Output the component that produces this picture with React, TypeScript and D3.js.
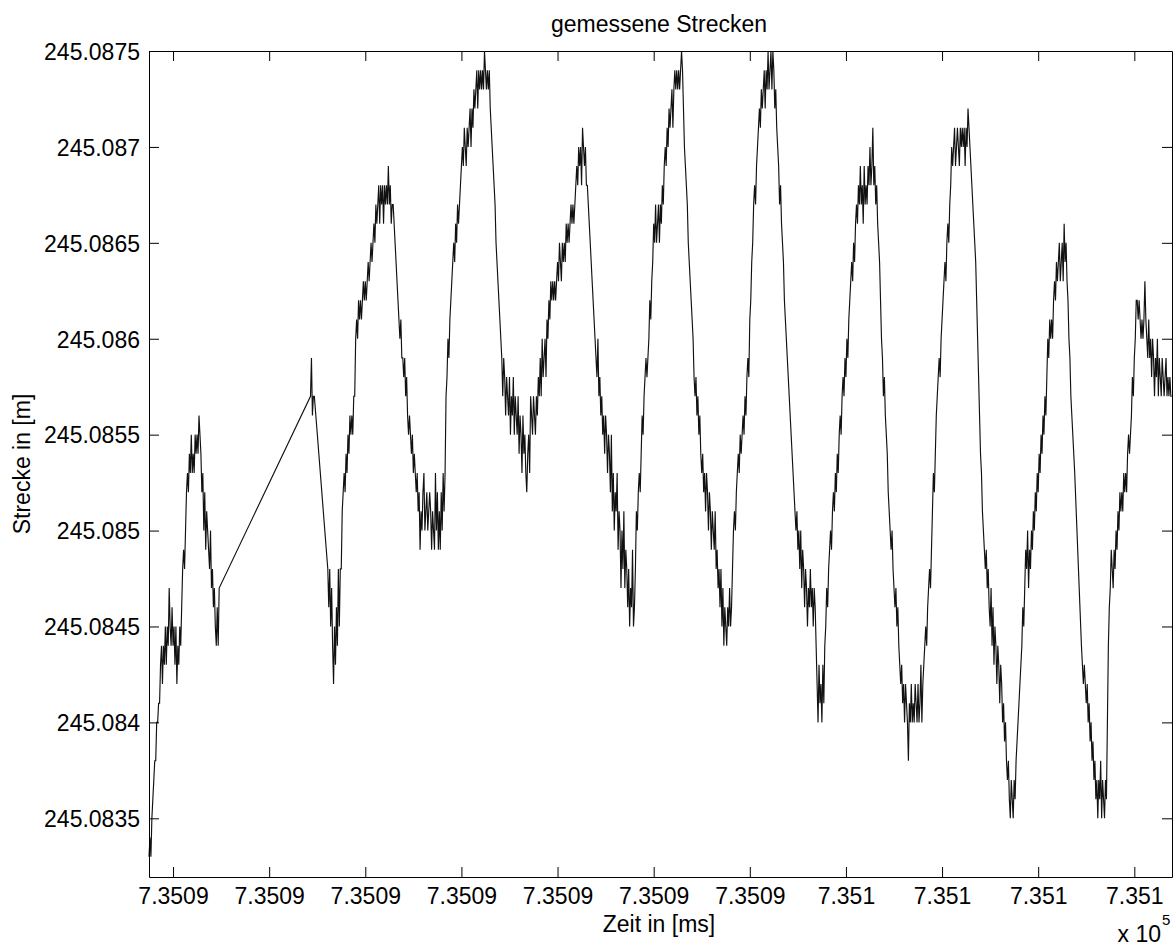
import React, { useEffect, useRef } from "react";
import * as d3 from "d3";

// Messreihe: Zeit in [ms], Strecke in [m]
const zeit = [
  735087.75, 735087.76, 735087.77, 735087.78, 735087.79,
  735087.80, 735087.81, 735087.82, 735087.83, 735087.84, 735087.85, 735087.86, 735087.87, 735087.88, 735087.89,
  735087.90, 735087.91, 735087.92, 735087.93, 735087.94, 735087.95, 735087.96, 735087.97, 735087.98, 735087.99,
  735088.00, 735088.01, 735088.02, 735088.03, 735088.04, 735088.05, 735088.06, 735088.07, 735088.08, 735088.09,
  735088.10, 735088.11, 735088.12, 735088.13, 735088.14, 735088.15, 735088.16, 735088.17, 735088.18, 735088.19,
  735088.20, 735088.21, 735088.22, 735088.23, 735088.24, 735088.25, 735088.26, 735088.27, 735088.28, 735088.29,
  735088.30, 735088.31, 735088.32, 735088.33, 735088.34, 735088.35, 735088.36, 735088.37, 735088.38, 735088.39,
  735088.40, 735088.41, 735088.42, 735088.43, 735088.44, 735088.45, 735088.46, 735088.47, 735088.48,
  735089.43, 735089.44, 735089.45, 735089.46, 735089.47,
  735089.61, 735089.62, 735089.63, 735089.64, 735089.65, 735089.66, 735089.67, 735089.68, 735089.69,
  735089.70, 735089.71, 735089.72, 735089.73, 735089.74, 735089.75, 735089.76, 735089.77, 735089.78, 735089.79,
  735089.80, 735089.81, 735089.82, 735089.83, 735089.84, 735089.85, 735089.86, 735089.87, 735089.88, 735089.89,
  735089.90, 735089.91, 735089.92, 735089.93, 735089.94, 735089.95, 735089.96, 735089.97, 735089.98, 735089.99,
  735090.00, 735090.01, 735090.02, 735090.03, 735090.04, 735090.05, 735090.06, 735090.07, 735090.08, 735090.09,
  735090.10, 735090.11, 735090.12, 735090.13, 735090.14, 735090.15, 735090.16, 735090.17, 735090.18, 735090.19,
  735090.20, 735090.21, 735090.22, 735090.23, 735090.24, 735090.25, 735090.26, 735090.27, 735090.28, 735090.29,
  735090.30, 735090.31, 735090.32, 735090.33, 735090.34, 735090.35, 735090.36, 735090.37, 735090.38, 735090.39,
  735090.40, 735090.41, 735090.42, 735090.43, 735090.44, 735090.45, 735090.46, 735090.47, 735090.48, 735090.49,
  735090.50, 735090.51, 735090.52, 735090.53, 735090.54, 735090.55, 735090.56, 735090.57, 735090.58, 735090.59,
  735090.60, 735090.61, 735090.62, 735090.63, 735090.64, 735090.65, 735090.66, 735090.67, 735090.68, 735090.69,
  735090.70, 735090.71, 735090.72, 735090.73, 735090.74, 735090.75, 735090.76, 735090.77, 735090.78, 735090.79,
  735090.80, 735090.81, 735090.82, 735090.83, 735090.84, 735090.85, 735090.86, 735090.87, 735090.88, 735090.89,
  735090.90, 735090.91, 735090.92, 735090.93, 735090.94, 735090.95, 735090.96, 735090.97, 735090.98, 735090.99,
  735091.00, 735091.01, 735091.02, 735091.03, 735091.04, 735091.05, 735091.06, 735091.07, 735091.08, 735091.09,
  735091.10, 735091.11, 735091.12, 735091.13, 735091.14, 735091.15, 735091.16, 735091.17, 735091.18, 735091.19,
  735091.20, 735091.21, 735091.22, 735091.23, 735091.24, 735091.25, 735091.26, 735091.27, 735091.28, 735091.29,
  735091.30, 735091.31, 735091.32, 735091.33, 735091.34, 735091.35, 735091.36, 735091.37, 735091.38, 735091.39,
  735091.40, 735091.41, 735091.42, 735091.43, 735091.44, 735091.45, 735091.46, 735091.47, 735091.48, 735091.49,
  735091.50, 735091.51, 735091.52, 735091.53, 735091.54, 735091.55, 735091.56, 735091.57, 735091.58, 735091.59,
  735091.60, 735091.61, 735091.62, 735091.63, 735091.64, 735091.65, 735091.66, 735091.67, 735091.68, 735091.69,
  735091.70, 735091.71, 735091.72, 735091.73, 735091.74, 735091.75, 735091.76, 735091.77, 735091.78, 735091.79,
  735091.80, 735091.81, 735091.82, 735091.83, 735091.84, 735091.85, 735091.86, 735091.87, 735091.88, 735091.89,
  735091.90, 735091.91, 735091.92, 735091.93, 735091.94, 735091.95, 735091.96, 735091.97, 735091.98, 735091.99,
  735092.00, 735092.01, 735092.02, 735092.03, 735092.04, 735092.05, 735092.06, 735092.07, 735092.08, 735092.09,
  735092.10, 735092.11, 735092.12, 735092.13, 735092.14, 735092.15, 735092.16, 735092.17, 735092.18, 735092.19,
  735092.20, 735092.21, 735092.22, 735092.23, 735092.24, 735092.25, 735092.26, 735092.27, 735092.28, 735092.29,
  735092.30, 735092.31, 735092.32, 735092.33, 735092.34, 735092.35, 735092.36, 735092.37, 735092.38, 735092.39,
  735092.40, 735092.41, 735092.42, 735092.43, 735092.44, 735092.45, 735092.46, 735092.47, 735092.48, 735092.49,
  735092.50, 735092.51, 735092.52, 735092.53, 735092.54, 735092.55, 735092.56, 735092.57, 735092.58, 735092.59,
  735092.60, 735092.61, 735092.62, 735092.63, 735092.64, 735092.65, 735092.66, 735092.67, 735092.68, 735092.69,
  735092.70, 735092.71, 735092.72, 735092.73, 735092.74, 735092.75, 735092.76, 735092.77, 735092.78, 735092.79,
  735092.80, 735092.81, 735092.82, 735092.83, 735092.84, 735092.85, 735092.86, 735092.87, 735092.88, 735092.89,
  735092.90, 735092.91, 735092.92, 735092.93, 735092.94, 735092.95, 735092.96, 735092.97, 735092.98, 735092.99,
  735093.00, 735093.01, 735093.02, 735093.03, 735093.04, 735093.05, 735093.06, 735093.07, 735093.08, 735093.09,
  735093.10, 735093.11, 735093.12, 735093.13, 735093.14, 735093.15, 735093.16, 735093.17, 735093.18, 735093.19,
  735093.20, 735093.21, 735093.22, 735093.23, 735093.24, 735093.25, 735093.26, 735093.27, 735093.28, 735093.29,
  735093.30, 735093.31, 735093.32, 735093.33, 735093.34, 735093.35, 735093.36, 735093.37, 735093.38, 735093.39,
  735093.40, 735093.41, 735093.42, 735093.43, 735093.44, 735093.45, 735093.46, 735093.47, 735093.48, 735093.49,
  735093.50, 735093.51, 735093.52, 735093.53, 735093.54, 735093.55, 735093.56, 735093.57, 735093.58, 735093.59,
  735093.60, 735093.61, 735093.62, 735093.63, 735093.64, 735093.65, 735093.66, 735093.67, 735093.68, 735093.69,
  735093.70, 735093.71, 735093.72, 735093.73, 735093.74, 735093.75, 735093.76, 735093.77, 735093.78, 735093.79,
  735093.80, 735093.81, 735093.82, 735093.83, 735093.84, 735093.85, 735093.86, 735093.87, 735093.88, 735093.89,
  735093.90, 735093.91, 735093.92, 735093.93, 735093.94, 735093.95, 735093.96, 735093.97, 735093.98, 735093.99,
  735094.00, 735094.01, 735094.02, 735094.03, 735094.04, 735094.05, 735094.06, 735094.07, 735094.08, 735094.09,
  735094.10, 735094.11, 735094.12, 735094.13, 735094.14, 735094.15, 735094.16, 735094.17, 735094.18, 735094.19,
  735094.20, 735094.21, 735094.22, 735094.23, 735094.24, 735094.25, 735094.26, 735094.27, 735094.28, 735094.29,
  735094.30, 735094.31, 735094.32, 735094.33, 735094.34, 735094.35, 735094.36, 735094.37, 735094.38, 735094.39,
  735094.40, 735094.41, 735094.42, 735094.43, 735094.44, 735094.45, 735094.46, 735094.47, 735094.48, 735094.49,
  735094.50, 735094.51, 735094.52, 735094.53, 735094.54, 735094.55, 735094.56, 735094.57, 735094.58, 735094.59,
  735094.60, 735094.61, 735094.62, 735094.63, 735094.64, 735094.65, 735094.66, 735094.67, 735094.68, 735094.69,
  735094.70, 735094.71, 735094.72, 735094.73, 735094.74, 735094.75, 735094.76, 735094.77, 735094.78, 735094.79,
  735094.80, 735094.81, 735094.82, 735094.83, 735094.84, 735094.85, 735094.86, 735094.87, 735094.88, 735094.89,
  735094.90, 735094.91, 735094.92, 735094.93, 735094.94, 735094.95, 735094.96, 735094.97, 735094.98, 735094.99,
  735095.00, 735095.01, 735095.02, 735095.03, 735095.04, 735095.05, 735095.06, 735095.07, 735095.08, 735095.09,
  735095.10, 735095.11, 735095.12, 735095.13, 735095.14, 735095.15, 735095.16, 735095.17, 735095.18, 735095.19,
  735095.20, 735095.21, 735095.22, 735095.23, 735095.24, 735095.25, 735095.26, 735095.27, 735095.28, 735095.29,
  735095.30, 735095.31, 735095.32, 735095.33, 735095.34, 735095.35, 735095.36, 735095.37, 735095.38, 735095.39,
  735095.40, 735095.41, 735095.42, 735095.43, 735095.44, 735095.45, 735095.46, 735095.47, 735095.48, 735095.49,
  735095.50, 735095.51, 735095.52, 735095.53, 735095.54, 735095.55, 735095.56, 735095.57, 735095.58, 735095.59,
  735095.60, 735095.61, 735095.62, 735095.63, 735095.64, 735095.65, 735095.66, 735095.67, 735095.68, 735095.69,
  735095.70, 735095.71, 735095.72, 735095.73, 735095.74, 735095.75, 735095.76, 735095.77, 735095.78, 735095.79,
  735095.80, 735095.81, 735095.82, 735095.83, 735095.84, 735095.85, 735095.86, 735095.87, 735095.88, 735095.89,
  735095.90, 735095.91, 735095.92, 735095.93, 735095.94, 735095.95, 735095.96, 735095.97, 735095.98, 735095.99,
  735096.00, 735096.01, 735096.02, 735096.03, 735096.04, 735096.05, 735096.06, 735096.07, 735096.08, 735096.09,
  735096.10, 735096.11, 735096.12, 735096.13, 735096.14, 735096.15, 735096.16, 735096.17, 735096.18, 735096.19,
  735096.20, 735096.21, 735096.22, 735096.23, 735096.24, 735096.25, 735096.26, 735096.27, 735096.28, 735096.29,
  735096.30, 735096.31, 735096.32, 735096.33, 735096.34, 735096.35, 735096.36, 735096.37, 735096.38, 735096.39,
  735096.40, 735096.41, 735096.42, 735096.43, 735096.44, 735096.45, 735096.46, 735096.47, 735096.48, 735096.49,
  735096.50, 735096.51, 735096.52, 735096.53, 735096.54, 735096.55, 735096.56, 735096.57, 735096.58, 735096.59,
  735096.60, 735096.61, 735096.62, 735096.63, 735096.64, 735096.65, 735096.66, 735096.67, 735096.68, 735096.69,
  735096.70, 735096.71, 735096.72, 735096.73, 735096.74, 735096.75, 735096.76, 735096.77, 735096.78, 735096.79,
  735096.80, 735096.81, 735096.82, 735096.83, 735096.84, 735096.85, 735096.86, 735096.87, 735096.88, 735096.89,
  735096.90, 735096.91, 735096.92, 735096.93, 735096.94, 735096.95, 735096.96, 735096.97, 735096.98, 735096.99,
  735097.00, 735097.01, 735097.02, 735097.03, 735097.04, 735097.05, 735097.06, 735097.07, 735097.08, 735097.09,
  735097.10, 735097.11, 735097.12, 735097.13, 735097.14, 735097.15, 735097.16, 735097.17, 735097.18, 735097.19,
  735097.20, 735097.21, 735097.22, 735097.23, 735097.24, 735097.25, 735097.26, 735097.27, 735097.28, 735097.29,
  735097.30, 735097.31, 735097.32, 735097.33, 735097.34, 735097.35, 735097.36, 735097.37, 735097.38,
  735097.45, 735097.46, 735097.47, 735097.48, 735097.49,
  735097.50, 735097.51, 735097.52, 735097.53, 735097.54, 735097.55, 735097.56, 735097.57, 735097.58, 735097.59,
  735097.60, 735097.61, 735097.62, 735097.63, 735097.64, 735097.65, 735097.66, 735097.67, 735097.68, 735097.69,
  735097.70, 735097.71, 735097.72, 735097.73, 735097.74, 735097.75, 735097.76, 735097.77, 735097.78, 735097.79,
  735097.80, 735097.81, 735097.82, 735097.83, 735097.84, 735097.85, 735097.86, 735097.87, 735097.88, 735097.89,
  735097.90, 735097.91, 735097.92, 735097.93, 735097.94, 735097.95, 735097.96, 735097.97, 735097.98, 735097.99,
  735098.00, 735098.01, 735098.02, 735098.03, 735098.04, 735098.05, 735098.06, 735098.07, 735098.08, 735098.09,
  735098.10, 735098.11, 735098.12, 735098.13, 735098.14, 735098.15, 735098.16, 735098.17, 735098.18, 735098.19,
  735098.20, 735098.21, 735098.22, 735098.23, 735098.24, 735098.25, 735098.26, 735098.27, 735098.28, 735098.29,
  735098.30, 735098.31, 735098.32, 735098.33, 735098.34, 735098.35, 735098.36, 735098.37, 735098.38, 735098.39,
];

const strecke = [
  245.0833, 245.0834, 245.0833, 245.0835, 245.0836,
  245.0837, 245.0838, 245.0838, 245.0840, 245.0840, 245.0841, 245.0841, 245.0843, 245.0844, 245.0842,
  245.0844, 245.0843, 245.0845, 245.0843, 245.0845, 245.0844, 245.0847, 245.0845, 245.0844, 245.0846,
  245.0844, 245.0845, 245.0843, 245.0845, 245.0842, 245.0844, 245.0843, 245.0845, 245.0844, 245.0846,
  245.0848, 245.0849, 245.0848, 245.0850, 245.0852, 245.0853, 245.0852, 245.0854, 245.0853, 245.0855,
  245.0853, 245.0854, 245.0853, 245.0855, 245.0854, 245.0855, 245.0854, 245.0856, 245.0855, 245.0854,
  245.0852, 245.0853, 245.0850, 245.0852, 245.0849, 245.0851, 245.0850, 245.0849, 245.0848, 245.0850,
  245.0847, 245.0848, 245.0846, 245.0847, 245.0845, 245.0844, 245.0846, 245.0844, 245.0847,
  245.0857, 245.0859, 245.0856, 245.0857, 245.0857,
  245.0848, 245.0846, 245.0848, 245.0845, 245.0847, 245.0844, 245.0842, 245.0845, 245.0843,
  245.0846, 245.0844, 245.0848, 245.0845, 245.0848, 245.0848, 245.0851, 245.0852, 245.0853, 245.0852,
  245.0854, 245.0853, 245.0855, 245.0854, 245.0856, 245.0855, 245.0856, 245.0855, 245.0857, 245.0857,
  245.0860, 245.0861, 245.0860, 245.0862, 245.0861, 245.0862, 245.0861, 245.0862, 245.0863, 245.0862,
  245.0863, 245.0862, 245.0863, 245.0864, 245.0863, 245.0864, 245.0865, 245.0864, 245.0865, 245.0866,
  245.0865, 245.0867, 245.0866, 245.0867, 245.0868, 245.0866, 245.0868, 245.0867, 245.0868, 245.0866,
  245.0868, 245.0867, 245.0868, 245.0867, 245.0869, 245.0867, 245.0868, 245.0866, 245.0867, 245.0867,
  245.0866, 245.0865, 245.0864, 245.0863, 245.0862, 245.0861, 245.0860, 245.0861, 245.0859, 245.0859,
  245.0858, 245.0859, 245.0857, 245.0858, 245.0856, 245.0855, 245.0856, 245.0855, 245.0854, 245.0855,
  245.0853, 245.0854, 245.0853, 245.0852, 245.0853, 245.0851, 245.0852, 245.0849, 245.0851, 245.0850,
  245.0852, 245.0853, 245.0850, 245.0851, 245.0852, 245.0850, 245.0851, 245.0852, 245.0851, 245.0849,
  245.0851, 245.0850, 245.0849, 245.0853, 245.0850, 245.0852, 245.0849, 245.0851, 245.0849, 245.0852,
  245.0850, 245.0853, 245.0851, 245.0853, 245.0857, 245.0858, 245.0860, 245.0859, 245.0861, 245.0862,
  245.0863, 245.0864, 245.0865, 245.0864, 245.0866, 245.0865, 245.0867, 245.0866, 245.0867, 245.0868,
  245.0869, 245.0870, 245.0869, 245.0871, 245.0870, 245.0869, 245.0871, 245.0870, 245.0871, 245.0872,
  245.0870, 245.0872, 245.0871, 245.0873, 245.0872, 245.0873, 245.0874, 245.0872, 245.0874, 245.0873,
  245.0874, 245.0873, 245.0874, 245.0873, 245.0875, 245.0874, 245.0873, 245.0874, 245.0873, 245.0874,
  245.0872, 245.0871, 245.0870, 245.0869, 245.0868, 245.0867, 245.0865, 245.0864, 245.0863, 245.0862,
  245.0861, 245.0860, 245.0859, 245.0857, 245.0859, 245.0858, 245.0856, 245.0858, 245.0857, 245.0856,
  245.0858, 245.0855, 245.0857, 245.0856, 245.0858, 245.0855, 245.0857, 245.0856, 245.0855, 245.0857,
  245.0854, 245.0856, 245.0855, 245.0853, 245.0856, 245.0854, 245.0855, 245.0853, 245.0852, 245.0854,
  245.0855, 245.0853, 245.0857, 245.0856, 245.0855, 245.0857, 245.0856, 245.0855, 245.0857, 245.0856,
  245.0858, 245.0857, 245.0859, 245.0857, 245.0860, 245.0858, 245.0859, 245.0860, 245.0858, 245.0861,
  245.0860, 245.0862, 245.0861, 245.0863, 245.0862, 245.0863, 245.0862, 245.0863, 245.0862, 245.0863,
  245.0864, 245.0863, 245.0865, 245.0864, 245.0863, 245.0865, 245.0864, 245.0865, 245.0864, 245.0866,
  245.0865, 245.0866, 245.0865, 245.0866, 245.0867, 245.0866, 245.0867, 245.0866, 245.0867, 245.0868,
  245.0869, 245.0868, 245.0870, 245.0869, 245.0870, 245.0868, 245.0871, 245.0870, 245.0869, 245.0870,
  245.0868, 245.0868, 245.0867, 245.0866, 245.0865, 245.0864, 245.0863, 245.0862, 245.0861, 245.0860,
  245.0859, 245.0858, 245.0860, 245.0857, 245.0858, 245.0856, 245.0857, 245.0855, 245.0856, 245.0854,
  245.0856, 245.0855, 245.0853, 245.0855, 245.0854, 245.0852, 245.0855, 245.0851, 245.0853, 245.0850,
  245.0852, 245.0851, 245.0853, 245.0849, 245.0851, 245.0850, 245.0847, 245.0850, 245.0848, 245.0851,
  245.0847, 245.0849, 245.0848, 245.0846, 245.0848, 245.0845, 245.0847, 245.0846, 245.0849, 245.0845,
  245.0846, 245.0848, 245.0851, 245.0850, 245.0852, 245.0853, 245.0852, 245.0854, 245.0856, 245.0855,
  245.0857, 245.0858, 245.0859, 245.0858, 245.0859, 245.0860, 245.0862, 245.0861, 245.0863, 245.0864,
  245.0866, 245.0865, 245.0867, 245.0865, 245.0866, 245.0867, 245.0865, 245.0867, 245.0866, 245.0868,
  245.0867, 245.0869, 245.0870, 245.0869, 245.0871, 245.0870, 245.0872, 245.0871, 245.0872, 245.0873,
  245.0871, 245.0873, 245.0874, 245.0873, 245.0874, 245.0873, 245.0874, 245.0873, 245.0874, 245.0875,
  245.0874, 245.0872, 245.0870, 245.0869, 245.0868, 245.0867, 245.0865, 245.0864, 245.0863, 245.0862,
  245.0861, 245.0860, 245.0858, 245.0857, 245.0858, 245.0856, 245.0857, 245.0855, 245.0856, 245.0854,
  245.0853, 245.0854, 245.0852, 245.0853, 245.0851, 245.0853, 245.0852, 245.0850, 245.0852, 245.0851,
  245.0849, 245.0851, 245.0850, 245.0849, 245.0851, 245.0848, 245.0849, 245.0847, 245.0848, 245.0846,
  245.0848, 245.0845, 245.0847, 245.0844, 245.0846, 245.0845, 245.0844, 245.0846, 245.0845, 245.0847,
  245.0845, 245.0846, 245.0848, 245.0850, 245.0851, 245.0850, 245.0852, 245.0853, 245.0854, 245.0853,
  245.0855, 245.0854, 245.0855, 245.0856, 245.0855, 245.0857, 245.0856, 245.0858, 245.0859, 245.0858,
  245.0861, 245.0862, 245.0864, 245.0865, 245.0867, 245.0868, 245.0867, 245.0869, 245.0870, 245.0871,
  245.0872, 245.0871, 245.0873, 245.0872, 245.0873, 245.0874, 245.0872, 245.0874, 245.0873, 245.0875,
  245.0873, 245.0874, 245.0875, 245.0873, 245.0875, 245.0874, 245.0872, 245.0873, 245.0871, 245.0870,
  245.0869, 245.0867, 245.0868, 245.0866, 245.0865, 245.0864, 245.0862, 245.0861, 245.0860, 245.0859,
  245.0858, 245.0857, 245.0856, 245.0855, 245.0854, 245.0853, 245.0852, 245.0851, 245.0850, 245.0851,
  245.0849, 245.0850, 245.0848, 245.0850, 245.0847, 245.0849, 245.0848, 245.0846, 245.0848, 245.0847,
  245.0845, 245.0847, 245.0846, 245.0848, 245.0846, 245.0847, 245.0845, 245.0847, 245.0846, 245.0844,
  245.0842, 245.0840, 245.0843, 245.0841, 245.0842, 245.0840, 245.0843, 245.0841, 245.0844, 245.0845,
  245.0847, 245.0846, 245.0848, 245.0849, 245.0850, 245.0849, 245.0851, 245.0852, 245.0851, 245.0853,
  245.0852, 245.0854, 245.0853, 245.0855, 245.0856, 245.0855, 245.0857, 245.0858, 245.0857, 245.0859,
  245.0858, 245.0860, 245.0859, 245.0861, 245.0862, 245.0863, 245.0864, 245.0863, 245.0865, 245.0864,
  245.0866, 245.0867, 245.0866, 245.0868, 245.0867, 245.0869, 245.0867, 245.0868, 245.0866, 245.0869,
  245.0867, 245.0868, 245.0867, 245.0869, 245.0868, 245.0870, 245.0868, 245.0869, 245.0871, 245.0868,
  245.0869, 245.0867, 245.0868, 245.0866, 245.0865, 245.0864, 245.0862, 245.0860, 245.0859, 245.0857,
  245.0858, 245.0856, 245.0855, 245.0854, 245.0852, 245.0851, 245.0850, 245.0849, 245.0850, 245.0848,
  245.0847, 245.0846, 245.0847, 245.0845, 245.0846, 245.0844, 245.0843, 245.0842, 245.0843, 245.0841,
  245.0842, 245.0840, 245.0842, 245.0841, 245.0840, 245.0838, 245.0841, 245.0840, 245.0842, 245.0840,
  245.0841, 245.0840, 245.0842, 245.0841, 245.0840, 245.0842, 245.0840, 245.0841, 245.0843, 245.0840,
  245.0842, 245.0843, 245.0844, 245.0845, 245.0844, 245.0846, 245.0847, 245.0848, 245.0847, 245.0849,
  245.0851, 245.0853, 245.0852, 245.0854, 245.0856, 245.0857, 245.0858, 245.0859, 245.0858, 245.0860,
  245.0861, 245.0862, 245.0863, 245.0864, 245.0863, 245.0865, 245.0866, 245.0865, 245.0867, 245.0868,
  245.0870, 245.0869, 245.0870, 245.0871, 245.0869, 245.0870, 245.0871, 245.0870, 245.0869, 245.0871,
  245.0870, 245.0871, 245.0870, 245.0871, 245.0869, 245.0871, 245.0870, 245.0872, 245.0871, 245.0870,
  245.0869, 245.0868, 245.0867, 245.0866, 245.0865, 245.0864, 245.0862, 245.0860, 245.0858, 245.0856,
  245.0854, 245.0853, 245.0851, 245.0850, 245.0849, 245.0848, 245.0849, 245.0847, 245.0848, 245.0846,
  245.0845, 245.0847, 245.0844, 245.0846, 245.0843, 245.0845, 245.0844, 245.0842, 245.0844, 245.0843,
  245.0841, 245.0843, 245.0842, 245.0840, 245.0841, 245.0839, 245.0840, 245.0838, 245.0837, 245.0838,
  245.0836, 245.0835, 245.0837, 245.0836, 245.0835, 245.0837, 245.0836, 245.0838, 245.0839, 245.0840,
  245.0841, 245.0842, 245.0843, 245.0844, 245.0846, 245.0845, 245.0847, 245.0849, 245.0848, 245.0850,
  245.0847, 245.0849, 245.0848, 245.0850, 245.0849, 245.0851, 245.0850, 245.0852, 245.0851, 245.0853,
  245.0852, 245.0854, 245.0853, 245.0855, 245.0854, 245.0856, 245.0855, 245.0857, 245.0856, 245.0858,
  245.0860, 245.0859, 245.0861, 245.0860, 245.0861, 245.0860, 245.0862, 245.0863, 245.0862, 245.0864,
  245.0863, 245.0864, 245.0865, 245.0863, 245.0864, 245.0865, 245.0863, 245.0866, 245.0864, 245.0865,
  245.0863, 245.0862, 245.0860, 245.0859, 245.0857, 245.0856, 245.0855, 245.0854, 245.0853,
  245.0844, 245.0843, 245.0842, 245.0843, 245.0842,
  245.0841, 245.0842, 245.0840, 245.0841, 245.0839, 245.0840, 245.0838, 245.0839, 245.0837, 245.0838,
  245.0836, 245.0837, 245.0835, 245.0837, 245.0836, 245.0838, 245.0835, 245.0837, 245.0836, 245.0835,
  245.0837, 245.0836, 245.0840, 245.0844, 245.0846, 245.0847, 245.0849, 245.0848, 245.0847, 245.0849,
  245.0848, 245.0850, 245.0849, 245.0851, 245.0850, 245.0852, 245.0851, 245.0852, 245.0851, 245.0853,
  245.0852, 245.0853, 245.0852, 245.0854, 245.0855, 245.0854, 245.0855, 245.0856, 245.0858, 245.0857,
  245.0859, 245.0860, 245.0862, 245.0862, 245.0861, 245.0862, 245.0861, 245.0860, 245.0861, 245.0860,
  245.0861, 245.0863, 245.0861, 245.0860, 245.0859, 245.0861, 245.0859, 245.0860, 245.0858, 245.0860,
  245.0859, 245.0857, 245.0859, 245.0858, 245.0860, 245.0857, 245.0859, 245.0858, 245.0857, 245.0859,
  245.0858, 245.0857, 245.0858, 245.0859, 245.0857, 245.0858, 245.0857, 245.0858, 245.0857, 245.0857,
];

const xTicks = [735088, 735089, 735090, 735091, 735092, 735093, 735094, 735095, 735096, 735097, 735098];
const yTicks = [245.0835, 245.084, 245.0845, 245.085, 245.0855, 245.086, 245.0865, 245.087, 245.0875];

const titel = "gemessene Strecken";
const xTitel = "Zeit in [ms]";
const yTitel = "Strecke in [m]";

export default function App() {
  const svgRef = useRef<SVGSVGElement>(null);

  useEffect(() => {
    const w = 1176;
    const h = 947;
    const left = 149, right = 1172, top = 51, bottom = 877;
    const font = "'Liberation Sans', Arial, Helvetica, sans-serif";

    const svg = d3.select(svgRef.current);
    svg.selectAll("*").remove();

    svg.append("rect").attr("width", w).attr("height", h).attr("fill", "#fff");

    // scales
    const x = d3.scaleLinear().domain([735087.75, 735098.392]).range([left, right]);
    const y = d3.scaleLinear().domain([245.083194, 245.0875]).range([bottom, top]);

    // messkurve
    const n = Math.min(zeit.length, strecke.length);
    const punkte: [number, number][] = d3.range(n).map(i => [zeit[i], strecke[i]]);
    const line = d3.line<[number, number]>()
      .x(d => x(d[0]))
      .y(d => y(d[1]));

    svg.append("path")
      .datum(punkte)
      .attr("d", line)
      .attr("fill", "none")
      .attr("stroke", "#111")
      .attr("stroke-width", 1.15);

    const fmtX = (d: number) => String(Math.round(d / 10) / 1e4);
    const fmtY = (d: number) => String(+d.toFixed(4));

    const styleAxis = (g: any) => {
      g.select(".domain").attr("stroke", "#000");
      g.selectAll(".tick line").attr("stroke", "#000");
      g.selectAll("text")
        .attr("font-family", font)
        .attr("font-size", 23)
        .attr("fill", "#000");
    };

    // axes, ticks inside like matlab
    svg.append("g")
      .attr("transform", `translate(0,${bottom})`)
      .call(d3.axisBottom(x).tickValues(xTicks).tickSizeInner(-10).tickSizeOuter(0).tickPadding(11).tickFormat(fmtX as any))
      .call(styleAxis);

    svg.append("g")
      .attr("transform", `translate(0,${top})`)
      .call(d3.axisTop(x).tickValues(xTicks).tickSizeInner(-10).tickSizeOuter(0).tickFormat(() => ""))
      .call(styleAxis);

    const yAxisG = svg.append("g")
      .attr("transform", `translate(${left},0)`)
      .call(d3.axisLeft(y).tickValues(yTicks).tickSizeInner(-10).tickSizeOuter(0).tickPadding(9).tickFormat(fmtY as any))
      .call(styleAxis);
    yAxisG.selectAll("text").attr("dy", "0.36em");

    svg.append("g")
      .attr("transform", `translate(${right},0)`)
      .call(d3.axisRight(y).tickValues(yTicks).tickSizeInner(-10).tickSizeOuter(0).tickFormat(() => ""))
      .call(styleAxis);

    // texts
    svg.append("text")
      .attr("x", 659).attr("y", 32)
      .attr("text-anchor", "middle")
      .attr("font-family", font).attr("font-size", 23)
      .text(titel);

    svg.append("text")
      .attr("x", 659).attr("y", 932)
      .attr("text-anchor", "middle")
      .attr("font-family", font).attr("font-size", 23)
      .text(xTitel);

    svg.append("text")
      .attr("transform", `translate(30,${(top + bottom) / 2}) rotate(-90)`)
      .attr("text-anchor", "middle")
      .attr("font-family", font).attr("font-size", 23)
      .text(yTitel);

    // exponent of the x axis
    svg.append("text")
      .attr("x", 1161).attr("y", 942)
      .attr("text-anchor", "end")
      .attr("font-family", font).attr("font-size", 23)
      .text("x 10");
    svg.append("text")
      .attr("x", 1162).attr("y", 925)
      .attr("font-family", font).attr("font-size", 15)
      .text("5");
  }, []);

  return (
    <svg
      ref={svgRef}
      width={1176}
      height={947}
      style={{ position: "absolute", left: 0, top: 0, display: "block" }}
    />
  );
}
